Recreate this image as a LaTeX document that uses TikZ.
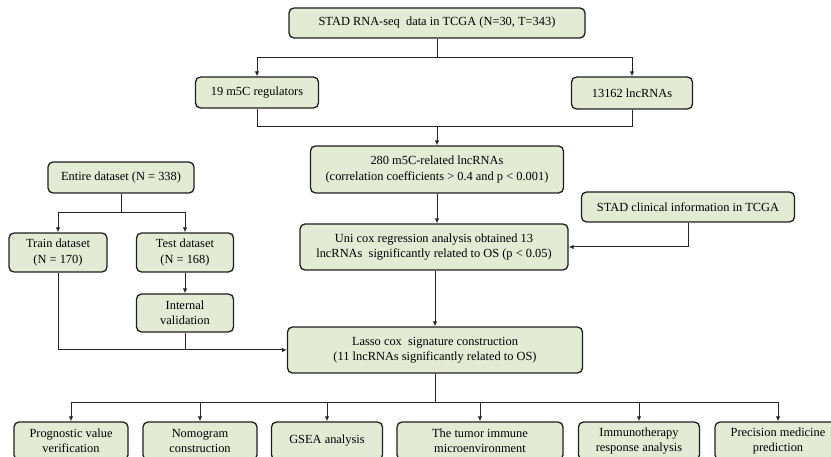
\documentclass[tikz,border=0pt]{standalone}
\usepackage{fontspec}
\setmainfont{Liberation Serif}
\usepackage{xcolor}
\definecolor{boxfill}{HTML}{E3EBD5}
\definecolor{boxline}{HTML}{1E1E1E}
\definecolor{wirecol}{HTML}{262626}
\usetikzlibrary{positioning,arrows.meta,calc}

\begin{document}
\begin{tikzpicture}[
  x=1pt, y=-1pt,
  font=\fontsize{12.4}{15.4}\selectfont,
  stepbox/.style={draw=boxline, line width=1.3pt, fill=boxfill, rounded corners=5pt,
                  align=center, inner sep=2pt},
  endbox/.style={stepbox, minimum height=38pt},
  link/.style={-{Latex[length=5pt,width=4.5pt]}, draw=wirecol, line width=1pt},
  conn/.style={draw=wirecol, line width=1pt}
]
  \clip (0,0) rectangle (831,457);

  % main column
  \node[stepbox, minimum width=296pt, minimum height=30pt] (data) at (437,23)
        {STAD RNA-seq\ \ data in TCGA (N=30, T=343)};
  \node[stepbox, minimum width=123pt, minimum height=31pt] (regs) at (257,92.5)
        {19 m5C regulators};
  \node[stepbox, minimum width=121pt, minimum height=32pt] (lnc) at (632,93)
        {13162 lncRNAs};
  \node[stepbox, minimum width=253pt, minimum height=47pt] (rel) at (437,169.5)
        {280 m5C-related lncRNAs\\(correlation coefficients > 0.4 and p < 0.001)};
  \node[stepbox, minimum width=268pt, minimum height=46pt] (uni) at (434,247)
        {Uni cox regression analysis obtained 13\\lncRNAs\ \ significantly related to OS (p < 0.05)};
  \node[stepbox, minimum width=213pt, minimum height=30pt] (clin) at (688,207)
        {STAD clinical information in TCGA};
  \node[stepbox, minimum width=295pt, minimum height=46pt] (lasso) at (435,350)
        {Lasso cox\ \ signature construction\\(11 lncRNAs significantly related to OS)};

  % dataset split
  \node[stepbox, minimum width=146pt, minimum height=31pt] (entire) at (121,177.5)
        {Entire dataset (N = 338)};
  \node[stepbox, minimum width=98pt, minimum height=39pt] (train) at (58,252.5)
        {Train dataset\\(N = 170)};
  \node[stepbox, minimum width=97pt, minimum height=39pt] (test) at (185,252.5)
        {Test dataset\\(N = 168)};
  \node[stepbox, minimum width=97pt, minimum height=38pt] (valid) at (185,313)
        {Internal\\validation};

  % downstream analyses
  \node[endbox, minimum width=114pt] (prog)   at (71,441)  {Prognostic value\\verification};
  \node[endbox, minimum width=114pt] (nomo)   at (200,441) {Nomogram\\construction};
  \node[endbox, minimum width=111pt] (gsea)   at (327,441) {GSEA analysis};
  \node[endbox, minimum width=166pt] (tme)    at (480,441) {The tumor immune\\microenvironment};
  \node[endbox, minimum width=121pt] (immuno) at (639,441) {Immunotherapy\\response analysis};
  \node[endbox, minimum width=126pt] (prec)   at (778,441) {Precision medicine\\prediction};

  \coordinate (split) at (437,58);
  \coordinate (merge) at (437,127);
  \coordinate (dsplit) at (121,213);
  \coordinate (djoin) at (185,350);
  \coordinate (fan) at (435,403);

  \draw[conn] (data.south) -- (split);
  \draw[link] (split) -| (regs.north);
  \draw[link] (split) -| (lnc.north);
  \draw[conn] (regs.south) |- (merge);
  \draw[conn] (lnc.south) |- (merge);
  \draw[link] (merge) -- (rel.north);
  \draw[link] (rel.south) -- (rel.south |- uni.north);
  \draw[link] (clin.south) |- (uni.east);
  \draw[link] (uni.south -| lasso.north) -- (lasso.north);

  \draw[conn] (entire.south) -- (dsplit);
  \draw[link] (dsplit) -| (train.north);
  \draw[link] (dsplit) -| (test.north);
  \draw[link] (test.south) -- (valid.north);
  \draw[conn] (valid.south) -- (djoin);
  \draw[link] (train.south) |- (lasso.west);

  \draw[conn] (lasso.south) -- (fan);
  \foreach \b in {prog,nomo,gsea,tme,immuno,prec}
    \draw[link] (fan) -| (\b.north);
\end{tikzpicture}
\end{document}
